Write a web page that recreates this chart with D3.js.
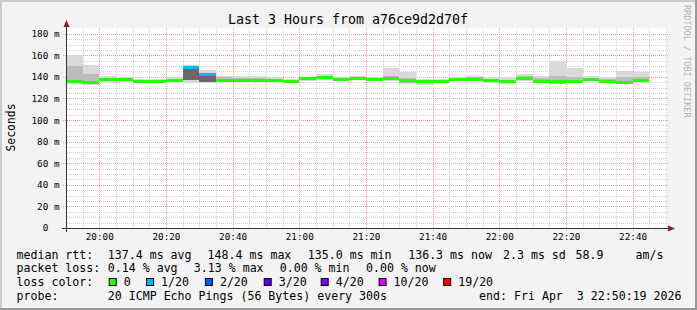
<!DOCTYPE html>
<html>
<head>
<meta charset="utf-8">
<script src="https://cdn.jsdelivr.net/npm/d3@7"></script>
<style>
  html, body { margin: 0; padding: 0; background: #f3f3f3; }
  svg { display: block; }
  text { font-family: "DejaVu Sans Mono", monospace; white-space: pre; }
</style>
</head>
<body>
<div id="chart"></div>
<script>
// Data (5 minute steps, ms)

const intervalStarts = ["19:50","19:55","20:00","20:05","20:10","20:15","20:20","20:25","20:30","20:35",
  "20:40","20:45","20:50","20:55","21:00","21:05","21:10","21:15","21:20","21:25",
  "21:30","21:35","21:40","21:45","21:50","21:55","22:00","22:05","22:10","22:15",
  "22:20","22:25","22:30","22:35","22:40"];

const medianRtt = [135.7,135.2,137.2,137.2,135.5,135.8,137.0,148.4,142.4,136.4,
  136.8,136.8,136.8,135.5,138.2,139.3,137.3,138.4,137.6,138.2,
  136.4,136.1,136.1,137.3,138.0,137.0,135.3,138.3,136.1,135.5,
  136.1,137.6,136.1,135.0,136.3];

const smokeMax = [160.5,151.2,140.4,140.0,138.2,138.5,139.8,151.2,146.0,141.0,
  140.4,140.4,139.5,138.2,140.0,142.3,139.8,140.4,139.5,148.5,
  144.1,138.5,138.5,140.1,141.0,139.8,139.5,142.3,141.0,154.6,
  148.2,140.4,139.5,145.7,144.1];

const smokeHigh = [150.0,143.0,139.0,138.8,137.3,137.5,138.5,149.5,144.0,139.5,
  139.2,139.2,138.5,137.5,139.5,141.0,139.0,139.5,138.8,141.0,
  139.0,137.5,137.5,139.0,140.0,138.5,137.0,140.5,139.0,141.0,
  140.0,139.3,138.3,140.0,139.5];

const smokeLow = [134.0,133.5,136.0,136.0,134.8,135.0,136.0,136.7,135.2,135.5,
  135.8,135.8,135.8,134.5,137.0,138.0,136.3,137.3,136.8,137.0,
  134.5,134.0,135.2,136.3,137.0,135.0,134.3,137.0,135.0,133.5,
  135.0,136.5,135.0,133.6,135.0];

const smokeMin = [133.5,132.7,135.5,135.5,134.3,134.5,135.5,134.2,134.2,135.0,
  135.3,135.3,135.2,134.0,136.5,137.5,135.8,136.8,136.3,136.5,
  133.6,132.7,134.8,135.8,136.5,134.8,133.8,136.5,134.5,133.0,
  134.5,136.0,134.5,133.0,134.5];

// lost pings out of 20 per step
const lossCount = [0,0,0,0,0,0,0,1,1,0, 0,0,0,0,0,0,0,0,0,0, 0,0,0,0,0,0,0,0,0,0, 0,0,0,0,0];

const lossLevels = ["0","1/20","2/20","3/20","4/20","10/20","19/20"];
const lossSteps = [0, 1, 2, 3, 4, 10, 19];
const lossColors = ["#26ff00","#00b8ff","#0059ff","#5e00ff","#7e00ff","#dd00ff","#ff0000"];

const yTicks = [0, 20, 40, 60, 80, 100, 120, 140, 160, 180];

const legendRows = [
  [["median rtt:", 16.5], ["137.4 ms avg", 107.8], ["148.4 ms max", 207.6], ["135.0 ms min", 307.8],
   ["136.3 ms now", 408.2], ["2.3 ms sd", 503], ["58.9", 575.5], ["am/s", 635.5]],
  [["packet loss:", 16.5], ["0.14 % avg", 107.8], ["3.13 % max", 193.8], ["0.00 % min", 279.7], ["0.00 % now", 366]],
  [["loss color:", 16.5]],
  [["probe:", 16.5], ["20 ICMP Echo Pings (56 Bytes) every 300s", 107.8]]
];
const lossLegendX = [108.7, 146.1, 204.9, 263.7, 320.7, 378.6, 443.2];
const endText = "end: Fri Apr  3 22:50:19 2026";

// Layout
const DIMENSIONS = {
  width: 697,
  height: 310,
  plot: {left: 67, right: 667, top: 28, bottom: 228}
};
const P = DIMENSIONS.plot;

const parseTime = d3.utcParse("%Y-%m-%d %H:%M:%S");
const startTime = parseTime("2026-04-03 19:50:19");
const endTime = parseTime("2026-04-03 22:50:19");
const parseStep = s => parseTime(`2026-04-03 ${s}:00`);

const data = intervalStarts.map((s, i) => ({
  t0: parseStep(s),
  t1: d3.utcMinute.offset(parseStep(s), 5),
  median: medianRtt[i],
  max: smokeMax[i], hi: smokeHigh[i], lo: smokeLow[i], min: smokeMin[i],
  loss: lossCount[i]
}));

const lossColor = n => {
  let c = lossColors[0];
  lossSteps.forEach((s, i) => { if (n >= s) c = lossColors[i]; });
  return c;
};

const x = d3.scaleUtc().domain([startTime, endTime]).range([P.left, P.right]);
const y = d3.scaleLinear().domain([0, 185.3]).range([P.bottom, P.top]);

const svg = d3.select("#chart").append("svg")
  .attr("width", DIMENSIONS.width)
  .attr("height", DIMENSIONS.height);

// canvas + frame
svg.append("rect").attr("width", DIMENSIONS.width).attr("height", DIMENSIONS.height).attr("fill", "#f3f3f3");
svg.append("rect").attr("x", 0).attr("y", 0).attr("width", DIMENSIONS.width).attr("height", 2).attr("fill", "#cbcbcb");
svg.append("rect").attr("x", 0).attr("y", 0).attr("width", 2).attr("height", DIMENSIONS.height).attr("fill", "#cbcbcb");
svg.append("rect").attr("x", 0).attr("y", DIMENSIONS.height - 2).attr("width", DIMENSIONS.width).attr("height", 2).attr("fill", "#999");
svg.append("rect").attr("x", DIMENSIONS.width - 2).attr("y", 0).attr("width", 2).attr("height", DIMENSIONS.height).attr("fill", "#999");

// plot background
svg.append("rect")
  .attr("x", P.left).attr("y", P.top)
  .attr("width", P.right - P.left).attr("height", P.bottom - P.top)
  .attr("fill", "#ffffff");

// grid
const grid = svg.append("g").attr("shape-rendering", "crispEdges");
const minorY = d3.range(5, 185, 5);
grid.selectAll(".hgrid")
  .data(minorY)
  .join("line")
  .attr("x1", d => d % 20 === 0 ? P.left - 4 : P.left)
  .attr("x2", P.right + 1)
  .attr("y1", d => Math.round(y(d)) + 0.5)
  .attr("y2", d => Math.round(y(d)) + 0.5)
  .attr("stroke", d => d % 20 === 0 ? "#f29c9c" : "#d2d2d2")
  .attr("stroke-dasharray", "1,1");

const minorX = d3.utcMinute.every(5).range(startTime, endTime);
grid.selectAll(".vgrid")
  .data(minorX)
  .join("line")
  .attr("x1", d => Math.round(x(d)) + 0.5)
  .attr("x2", d => Math.round(x(d)) + 0.5)
  .attr("y1", P.top)
  .attr("y2", d => d.getUTCMinutes() % 20 === 0 ? P.bottom + 3 : P.bottom)
  .attr("stroke", d => d.getUTCMinutes() % 20 === 0 ? "#f29c9c" : "#d2d2d2")
  .attr("stroke-dasharray", "1,1");

// data
svg.append("clipPath").attr("id", "plot-clip")
  .append("rect")
  .attr("x", P.left).attr("y", P.top)
  .attr("width", P.right - P.left).attr("height", P.bottom - P.top);

const marks = svg.append("g").attr("clip-path", "url(#plot-clip)").attr("shape-rendering", "crispEdges");

marks.selectAll(".smoke-outer")
  .data(data)
  .join("rect")
  .attr("x", d => x(d.t0))
  .attr("width", d => x(d.t1) - x(d.t0))
  .attr("y", d => y(d.max))
  .attr("height", d => y(d.min) - y(d.max))
  .attr("fill", "#d9d9d9");

marks.selectAll(".smoke-inner")
  .data(data)
  .join("rect")
  .attr("x", d => x(d.t0))
  .attr("width", d => x(d.t1) - x(d.t0))
  .attr("y", d => y(d.hi))
  .attr("height", d => y(d.lo) - y(d.hi))
  .attr("fill", d => d.loss > 0 ? "#686868" : "#bcbcbc");

marks.selectAll(".median")
  .data(data)
  .join("rect")
  .attr("x", d => x(d.t0))
  .attr("width", d => x(d.t1) - x(d.t0))
  .attr("y", d => y(d.median) - 1.5)
  .attr("height", 3)
  .attr("fill", d => lossColor(d.loss));

// axes
const xAxis = svg.append("g")
  .attr("transform", `translate(0,${P.bottom})`)
  .call(d3.axisBottom(x)
    .ticks(d3.utcMinute.every(20))
    .tickFormat(d3.utcFormat("%H:%M"))
    .tickSize(0)
    .tickPadding(5.5));
xAxis.select(".domain").remove();
xAxis.selectAll("text").attr("font-family", "DejaVu Sans Mono").attr("font-size", "9.3px").attr("fill", "#000");

const yAxis = svg.append("g")
  .attr("transform", `translate(${P.left},0)`)
  .call(d3.axisLeft(y)
    .tickValues(yTicks)
    .tickFormat(d => d === 0 ? "0  " : `${d} m`)
    .tickSize(0)
    .tickPadding(7.5));
yAxis.select(".domain").remove();
yAxis.selectAll("text")
  .attr("xml:space", "preserve")
  .attr("font-family", "DejaVu Sans Mono").attr("font-size", "9.3px").attr("fill", "#000");

svg.append("line")
  .attr("x1", P.left - 5).attr("x2", P.right + 5)
  .attr("y1", P.bottom + 0.5).attr("y2", P.bottom + 0.5)
  .attr("stroke", "#333");
svg.append("line")
  .attr("x1", P.left - 0.5).attr("x2", P.left - 0.5)
  .attr("y1", P.bottom + 4).attr("y2", P.top - 4)
  .attr("stroke", "#333");

// arrows
svg.append("path")
  .attr("d", `M${P.left - 0.5},${P.top - 8} L${P.left - 3.5},${P.top - 1} L${P.left + 2.5},${P.top - 1} Z`)
  .attr("fill", "#8b1a1a");
svg.append("path")
  .attr("d", `M${P.right + 8},${P.bottom + 0.5} L${P.right + 1},${P.bottom - 2.5} L${P.right + 1},${P.bottom + 3.5} Z`)
  .attr("fill", "#8b1a1a");

// title and labels
svg.append("text")
  .attr("x", 348).attr("y", 24)
  .attr("text-anchor", "middle")
  .attr("font-size", "13.3px")
  .attr("fill", "#000")
  .text("Last 3 Hours from a76ce9d2d70f");

svg.append("text")
  .attr("transform", "translate(15,127.5) rotate(-90)")
  .attr("text-anchor", "middle")
  .attr("font-size", "11.4px")
  .attr("fill", "#000")
  .text("Seconds");

svg.append("text")
  .attr("transform", "translate(683.5,5) rotate(90)")
  .attr("font-size", "8.5px")
  .attr("fill", "#b4b4b4")
  .text("RRDTOOL / TOBI OETIKER");

// legend
const rowBase = [258.7, 272.4, 286.2, 300];
legendRows.forEach((row, r) => {
  svg.selectAll(`.legend-row-${r}`)
    .data(row)
    .join("text")
    .attr("class", `legend-row-${r}`)
    .attr("x", d => d[1])
    .attr("y", rowBase[r])
    .attr("font-size", "11.6px")
    .attr("fill", "#000")
    .text(d => d[0]);
});

svg.append("text")
  .attr("x", 681.5).attr("y", rowBase[3])
  .attr("text-anchor", "end")
  .attr("font-size", "11.6px")
  .attr("fill", "#000")
  .text(endText);

const lossLegend = svg.selectAll(".loss-legend")
  .data(lossLevels)
  .join("g")
  .attr("class", "loss-legend")
  .attr("transform", (d, i) => `translate(${lossLegendX[i]},0)`);

lossLegend.append("rect")
  .attr("x", 0.5).attr("y", 278.5)
  .attr("width", 7).attr("height", 7)
  .attr("fill", (d, i) => lossColors[i])
  .attr("stroke", "#000");

lossLegend.append("text")
  .attr("x", 15).attr("y", rowBase[2])
  .attr("font-size", "11.6px")
  .attr("fill", "#000")
  .text(d => d);
</script>
</body>
</html>
